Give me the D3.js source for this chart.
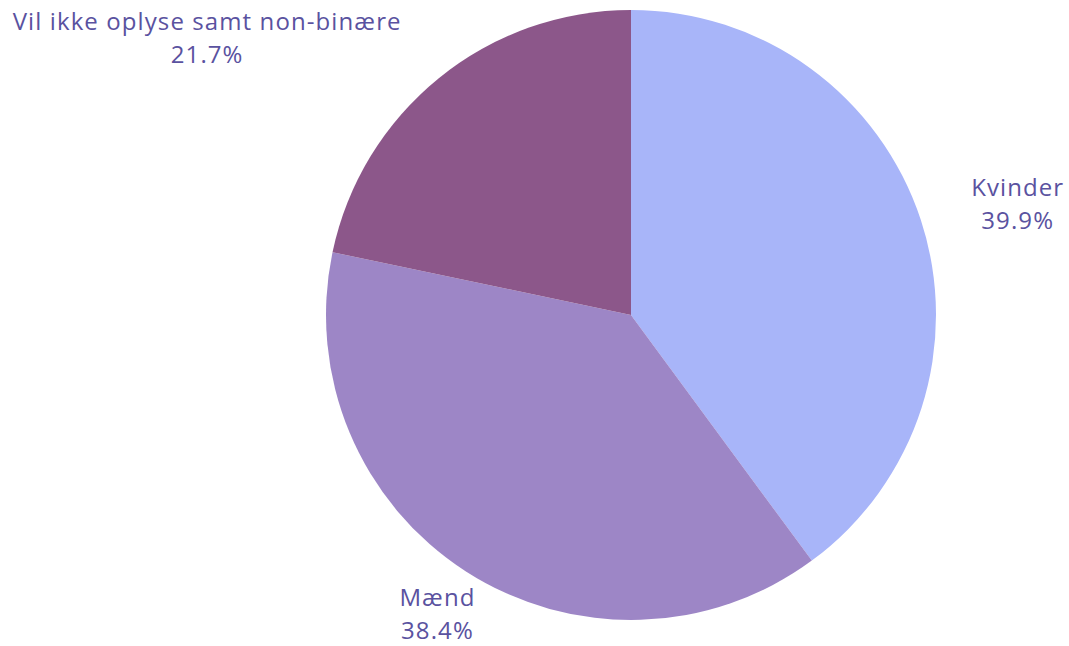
<!DOCTYPE html>
<html>
<head>
<meta charset="utf-8">
<script src="https://cdn.jsdelivr.net/npm/d3@7"></script>
<style>
  html, body { margin: 0; padding: 0; background: #fff; }
  svg { display: block; }
</style>
</head>
<body>
<svg id="pie-chart" width="1069" height="646"></svg>
<script>
// data
const categories = ["Kvinder", "Mænd", "Vil ikke oplyse samt non-binære"];
const shares = [39.9, 38.4, 21.7];
const sliceColors = ["#a8b5f9", "#9d86c6", "#8c578a"];

// hand tweaks so the labels sit where the original put them (px, relative to the label arc)
const labelShift = { "Kvinder": [10, 5], "Mænd": [21, -42], "Vil ikke oplyse samt non-binære": [-174, 23] };

const svg = d3.select("#pie-chart"),
    cx = 631, cy = 315, radius = 305,
    g = svg.append("g").attr("transform", "translate(" + cx + "," + cy + ")");

const pieData = categories.map(function(c, i) { return { name: c, value: shares[i] }; });
const total = d3.sum(shares);

const color = d3.scaleOrdinal().domain(categories).range(sliceColors);
const pie = d3.pie().sort(null).value(function(d) { return d.value; });
const arc = d3.arc().innerRadius(0).outerRadius(radius);
const labelArc = d3.arc().innerRadius(radius * 1.3).outerRadius(radius * 1.3);
const pct = d3.format(".1%");

const arcs = pie(pieData);

g.selectAll("path")
  .data(arcs)
  .enter().append("path")
    .attr("d", arc)
    .attr("fill", function(d) { return color(d.data.name); });

const labels = g.selectAll("text.label")
  .data(arcs)
  .enter().append("text")
    .attr("class", "label")
    .attr("text-anchor", "middle")
    .attr("font-family", "'Open Sans', sans-serif")
    .attr("font-size", 24)
    .attr("letter-spacing", 1.1)
    .attr("fill", "#5a52a0")
    .attr("transform", function(d) {
      const p = labelArc.centroid(d), s = labelShift[d.data.name];
      return "translate(" + (p[0] + s[0]) + "," + (p[1] + s[1]) + ")";
    });

labels.append("tspan")
  .attr("x", 0)
  .attr("y", 0)
  .text(function(d) { return d.data.name; });

labels.append("tspan")
  .attr("x", 0)
  .attr("y", 33)
  .text(function(d) { return pct(d.data.value / total); });
</script>
</body>
</html>
